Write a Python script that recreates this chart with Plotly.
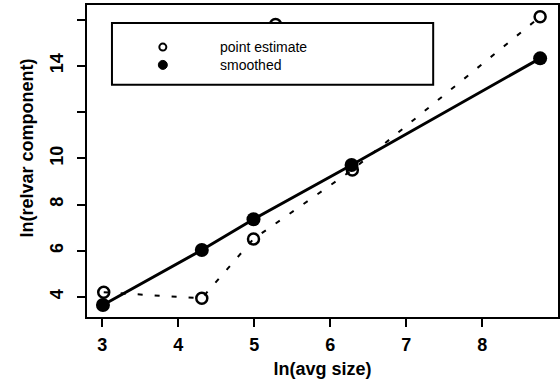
import plotly.graph_objects as go

# data
est_x = [3.02, 4.31, 4.99, 5.28, 6.29, 8.76]
est_y = [4.20, 3.94, 6.51, 15.80, 9.50, 16.13]
# dashed line joins the point estimates (the outlier under the legend excluded)
dash_x = [3.02, 4.31, 4.99, 6.29, 8.76]
dash_y = [4.20, 3.94, 6.51, 9.50, 16.13]
smooth_x = [3.01, 4.31, 4.99, 6.28, 8.76]
smooth_y = [3.65, 6.03, 7.36, 9.71, 14.33]

x_ticks = [3, 4, 5, 6, 7, 8]
y_ticks = [4, 6, 8, 10, 12, 14, 16]
y_ticktext = ["4", "6", "8", "10", "", "14", ""]

FONT = "Liberation Sans, Arial, sans-serif"

fig = go.Figure()
fig.add_trace(go.Scatter(x=dash_x, y=dash_y, mode="lines",
                         line=dict(color="black", width=2, dash="5px,12px"),
                         showlegend=False, hoverinfo="skip"))
fig.add_trace(go.Scatter(x=smooth_x, y=smooth_y, mode="lines+markers",
                         line=dict(color="black", width=3),
                         marker=dict(color="black", size=14),
                         showlegend=False))
fig.add_trace(go.Scatter(x=est_x, y=est_y, mode="markers",
                         marker=dict(symbol="circle-open", color="black", size=11,
                                     line=dict(width=2.5, color="black")),
                         showlegend=False))

# legend box drawn by hand (R style)
fig.add_shape(type="rect", xref="paper", yref="paper", x0=0.053, x1=0.735,
              y0=0.744, y1=0.942, line=dict(color="black", width=2),
              fillcolor="white", layer="above")
fig.add_shape(type="circle", xref="paper", yref="paper", xsizemode="pixel",
              ysizemode="pixel", xanchor=0.161, yanchor=0.865,
              x0=-3.5, x1=3.5, y0=-3.5, y1=3.5,
              line=dict(color="black", width=2), fillcolor="white", layer="above")
fig.add_shape(type="circle", xref="paper", yref="paper", xsizemode="pixel",
              ysizemode="pixel", xanchor=0.161, yanchor=0.808,
              x0=-4.5, x1=4.5, y0=-4.5, y1=4.5,
              line=dict(color="black", width=1), fillcolor="black", layer="above")
for txt, yy in [("point estimate", 0.865), ("smoothed", 0.808)]:
    fig.add_annotation(text=txt, xref="paper", yref="paper", x=0.278, y=yy,
                       xanchor="left", yanchor="middle", showarrow=False,
                       font=dict(family=FONT, size=14, color="black"))

# y-axis title (R places it a little above the axis centre here)
fig.add_annotation(text="ln(relvar component)", xref="paper", yref="paper",
                   x=-0.128, y=0.542, xanchor="center", yanchor="middle",
                   textangle=-90, showarrow=False,
                   font=dict(family=FONT, size=18, color="black", weight="bold"))

fig.update_xaxes(range=[2.80, 8.995], tickvals=x_ticks, ticks="outside",
                 ticklen=8, tickwidth=2, tickcolor="black", automargin=False,
                 showline=True, linecolor="black", linewidth=2, mirror=True,
                 showgrid=False, zeroline=False, ticklabelstandoff=2,
                 tickfont=dict(family=FONT, size=18, color="black", weight="bold"),
                 title=dict(text="ln(avg size)", standoff=9,
                            font=dict(family=FONT, size=18, color="black", weight="bold")))
fig.update_yaxes(range=[3.13, 16.64], tickvals=y_ticks, ticktext=y_ticktext,
                 ticks="outside", ticklen=8, tickwidth=2, tickcolor="black",
                 tickangle=-90, automargin=False, ticklabelstandoff=7,
                 showline=True, linecolor="black", linewidth=2, mirror=True,
                 showgrid=False, zeroline=False,
                 tickfont=dict(family=FONT, size=18, color="black", weight="bold"))

fig.update_layout(width=560, height=391, margin=dict(l=87, r=2, t=5, b=74),
                  paper_bgcolor="white", plot_bgcolor="white")
fig.write_html("out.html", config={"displayModeBar": False},
               post_script="document.body.style.margin='0';document.body.style.padding='0';")
